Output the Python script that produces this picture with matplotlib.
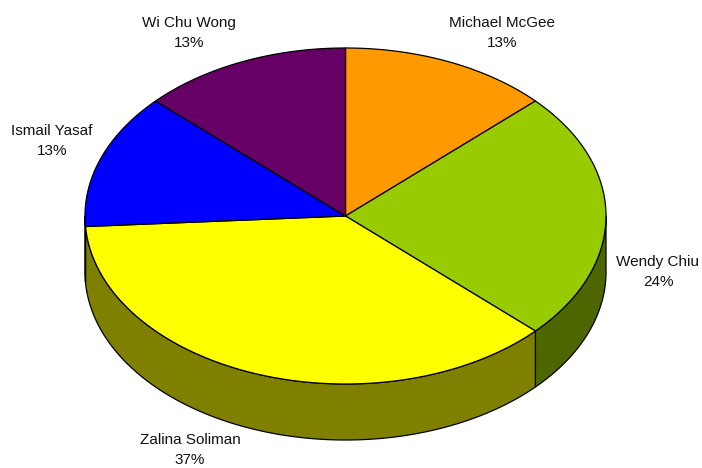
import numpy as np
import matplotlib
matplotlib.use('Agg')
import matplotlib.pyplot as plt
from matplotlib.patches import Polygon

plt.rcParams['font.family'] = ['Liberation Sans', 'DejaVu Sans']

names = ['Michael McGee', 'Wendy Chiu', 'Zalina Soliman', 'Ismail Yasaf', 'Wi Chu Wong']
percents = [13, 24, 37, 13, 13]
top_colors = ['#ff9900', '#99cc00', '#ffff00', '#0000ff', '#660066']
side_colors = ['#805000', '#4d6600', '#808000', '#000080', '#330033']

# pie geometry in pixels (y grows downward)
cx, cy = 345.5, 216
rx, ry = 260.5, 168
depth = 56


def arc(a, b, n=200):
    th = np.radians(np.linspace(a, b, n))
    return np.column_stack([cx + rx * np.cos(th), cy - ry * np.sin(th)])


fig = plt.figure(figsize=(7.02, 4.68), dpi=100)
ax = fig.add_axes([0, 0, 1, 1])
ax.set_xlim(0, 702)
ax.set_ylim(468, 0)
ax.axis('off')

# slice angles, starting at 12 o'clock and going clockwise
vals = np.array(percents, dtype=float)
ends = 90 - np.cumsum(vals) / vals.sum() * 360
starts = np.concatenate([[90], ends[:-1]])

# side walls, only the front half (-180..0 deg) is visible
for s, e, c in zip(starts, ends, side_colors):
    lo, hi = max(e, -180), min(s, 0)
    if hi <= lo:
        continue
    top = arc(hi, lo)
    bot = top[::-1] + [0, depth]
    ax.add_patch(Polygon(np.vstack([top, bot]), closed=True, facecolor=c,
                         edgecolor='black', linewidth=0.9, joinstyle='round'))

# top faces
for s, e, c in zip(starts, ends, top_colors):
    pts = np.vstack([[cx, cy], arc(s, e)])
    ax.add_patch(Polygon(pts, closed=True, facecolor=c, edgecolor='black',
                         linewidth=0.9, joinstyle='round'))

# labels
label_pos = [(502, 33), (658, 272), (190, 450), (52, 141), (189, 33)]
for name, p, (x, y) in zip(names, percents, label_pos):
    ax.text(x, y, f'{name}\n{p}%', ha='center', va='center', fontsize=11,
            color='#111111', linespacing=1.5)

fig.savefig('out.png', dpi=100)
